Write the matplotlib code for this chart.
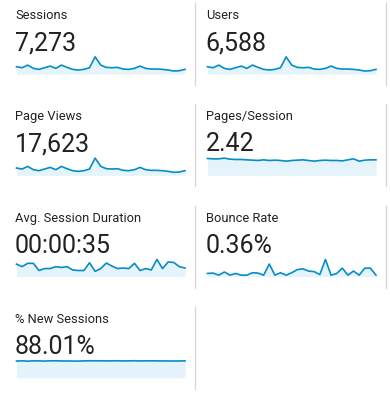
import numpy as np
import matplotlib
matplotlib.use('Agg')
import matplotlib.pyplot as plt
from matplotlib.lines import Line2D

plt.rcParams['font.family'] = ['Roboto', 'DejaVu Sans']

titles = ['Sessions', 'Users', 'Page Views', 'Pages/Session',
          'Avg. Session Duration', 'Bounce Rate', '% New Sessions']
totals = ['7,273', '6,588', '17,623', '2.42', '00:00:35', '0.36%', '88.01%']

sessions = [276, 239, 339, 214, 176, 239, 301, 214, 339, 251, 176, 151, 176, 239, 653, 339,
            251, 239, 251, 188, 176, 214, 301, 214, 188, 188, 176, 151, 113, 126, 176]
users = [250, 216, 307, 194, 160, 216, 273, 194, 307, 228, 160, 137, 160, 216, 592, 307,
         228, 216, 228, 171, 160, 194, 273, 194, 171, 171, 160, 137, 103, 114, 160]
page_views = [669, 578, 821, 517, 426, 578, 730, 517, 821, 608, 426, 365, 426, 578, 1582, 821,
              608, 578, 608, 456, 426, 517, 730, 517, 456, 456, 426, 365, 274, 304, 426]
pages_per_session = [2.67, 2.61, 2.61, 2.72, 2.56, 2.51, 2.51, 2.45, 2.40, 2.35, 2.45, 2.35,
                     2.40, 2.35, 2.24, 2.35, 2.40, 2.45, 2.35, 2.24, 2.35, 2.40, 2.35, 2.35,
                     2.29, 2.45, 2.61, 2.24, 2.40, 2.45, 2.45]
avg_duration = [45, 36, 48, 48, 22, 29, 29, 36, 33, 36, 24, 22, 22, 50, 19, 29,
                49, 38, 29, 31, 29, 48, 22, 29, 24, 62, 29, 53, 51, 36, 31]
bounce_rate = [0.26, 0.29, 0.12, 0.38, 0.12, 0.26, 0.12, 0.12, 0.32, 0.29, 0.12, 1.04,
               0.12, 0.32, 0.12, 0.32, 0.58, 0.64, 0.46, 0.41, 0.17, 1.42, 0.12, 0.26,
               0.70, 0.12, 0.46, 0.12, 0.70, 0.70, 0.12]
new_sessions = [87.5, 88.3, 86.8, 88.6, 88.2, 87.2, 88.5, 88.8, 88.0, 87.6, 87.4, 87.0,
                88.4, 88.9, 88.6, 88.7, 88.2, 88.5, 88.9, 88.0, 88.4, 89.0, 87.9, 88.3,
                88.7, 88.1, 88.0, 87.8, 87.6, 87.7, 88.4]

series = [sessions, users, page_views, pages_per_session, avg_duration, bounce_rate, new_sessions]

W, H = 390, 399
LINE = '#058dc7'
FILL = '#e5f3fa'

fig = plt.figure(figsize=(W / 100, H / 100), dpi=100)


def fx(px):
    return px / W


def fy(py):
    return 1 - py / H


for i, (title, total, vals) in enumerate(zip(titles, totals, series)):
    row, col = divmod(i, 2)
    x0 = 15 + col * 191
    y0 = row * 101.3
    fig.text(fx(x0), fy(y0 + 19), title, fontsize=9.3, color='#222222', va='baseline', ha='left')
    fig.text(fx(x0 - 0.5), fy(y0 + 50), total, fontsize=18,
             color='#222222', va='baseline', ha='left')

    ax = fig.add_axes([fx(x0 + 1.5), fy(y0 + 74), fx(168.5), 17.5 / H])
    xs = np.arange(len(vals))
    ax.fill_between(xs, 0, vals, color=FILL, linewidth=0)
    ax.plot(xs, vals, color=LINE, lw=1.2, solid_joinstyle='round', clip_on=False)
    ax.set_xlim(0, len(vals) - 1)
    ax.set_ylim(0, max(vals) * 1.02)
    ax.axis('off')

    # divider on the right of each panel
    xd = 194.5 + col * 191
    fig.add_artist(Line2D([fx(xd), fx(xd)], [fy(y0 + 3), fy(y0 + 85)], color='#d5d5d5', lw=0.9))

fig.savefig('out.png', dpi=100, facecolor='white')
